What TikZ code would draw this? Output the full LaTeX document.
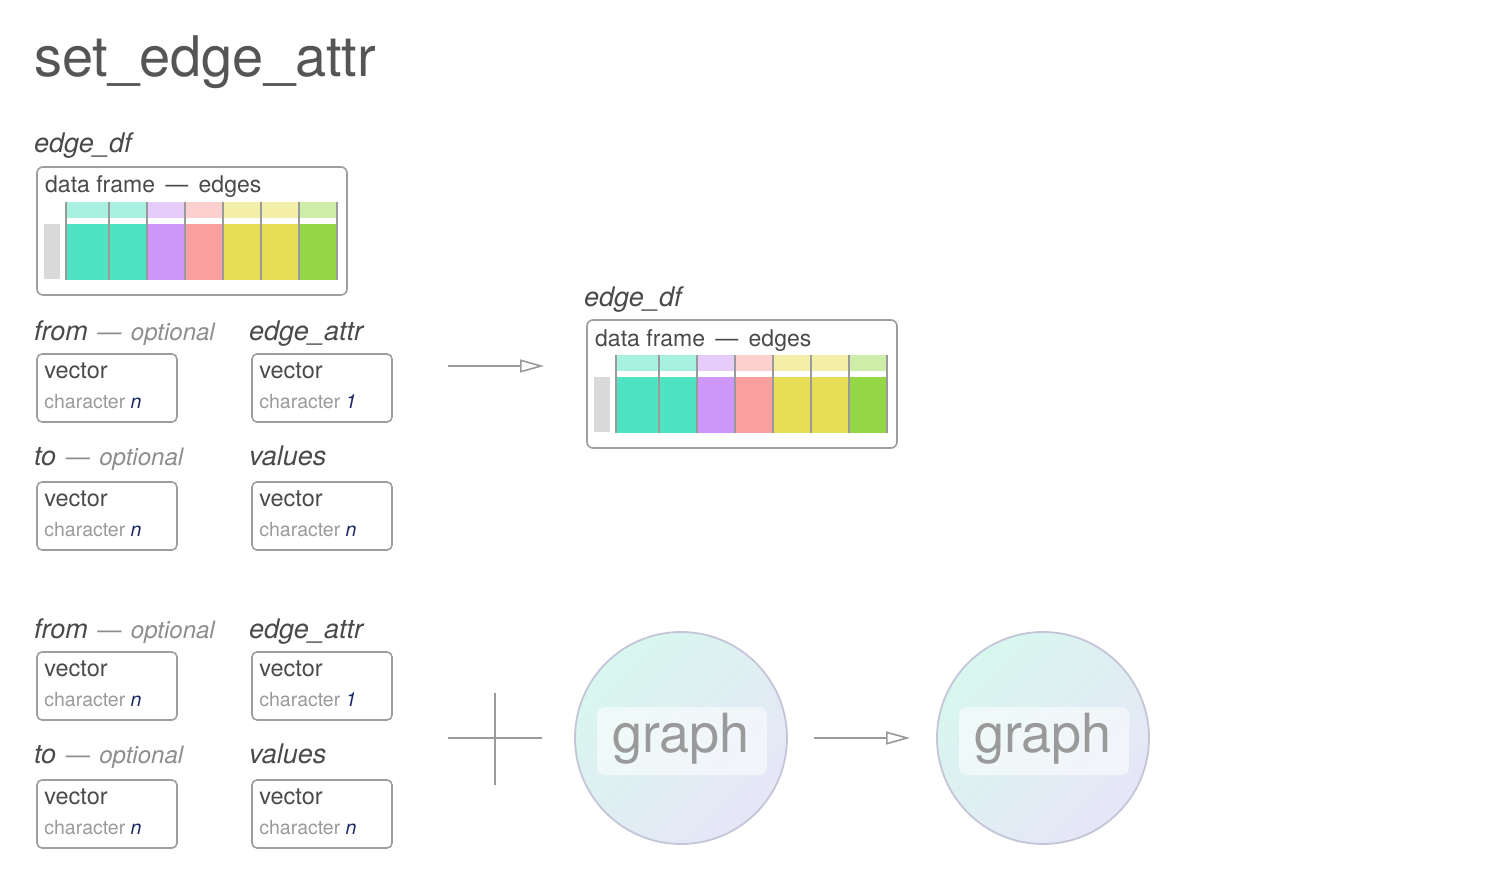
\documentclass[tikz,border=0pt]{standalone}
\usepackage{fontspec}
\setmainfont{TeX Gyre Heros}
\usetikzlibrary{arrows.meta}
\definecolor{txt}{HTML}{4A4A4A}
\definecolor{ttl}{HTML}{555555}
\definecolor{opt}{HTML}{8E8E8E}
\definecolor{chr}{HTML}{9A9A9A}
\definecolor{navy}{HTML}{1B2A64}
\definecolor{frame}{HTML}{9E9E9E}
\definecolor{sepc}{HTML}{9A9A9A}
\definecolor{barc}{HTML}{D9D9D9}
\definecolor{hA}{HTML}{A8F0E0}\definecolor{bA}{HTML}{4FE3C1}
\definecolor{hB}{HTML}{E5CCFA}\definecolor{bB}{HTML}{CD96F9}
\definecolor{hC}{HTML}{FDD0D0}\definecolor{bC}{HTML}{FA9F9F}
\definecolor{hD}{HTML}{F3EFA8}\definecolor{bD}{HTML}{E8DE55}
\definecolor{hE}{HTML}{CDEDA8}\definecolor{bE}{HTML}{95D646}
\definecolor{mint}{HTML}{D8F7EE}
\definecolor{lav}{HTML}{E6E6F7}
\definecolor{ring}{HTML}{C4C6D8}
\definecolor{gtxt}{HTML}{9A9A9A}
\tikzset{
  txtnode/.style={inner sep=0pt, anchor=base west},
  lbl/.style={txtnode, text=txt, font=\fontsize{27}{30}\selectfont\itshape},
  dfbox/.style={draw=frame, line width=1.6pt, rounded corners=6pt, minimum width=310pt, minimum height=128pt, inner sep=0pt},
  vecbox/.style={draw=frame, line width=1.6pt, rounded corners=5pt, minimum width=140pt, minimum height=68pt, inner sep=0pt},
  sep/.style={draw=sepc, line width=2pt},
  arr/.style={draw=sepc, line width=1.6pt, -{Triangle[open, length=24pt, width=13pt, line width=1.6pt]}},
  plusline/.style={draw=sepc, line width=2pt},
  gcirc/.style={circle, draw=ring, line width=1.8pt, minimum size=212pt, inner sep=0pt, top color=mint, bottom color=lav, shading angle=45},
  gbox/.style={fill=white, fill opacity=0.55, rounded corners=8pt, minimum width=170pt, minimum height=68pt, inner sep=0pt},
  gtext/.style={inner sep=0pt, anchor=base, text=gtxt, font=\fontsize{54}{58}\selectfont},
}
\newcommand\dfblock[3]{%
\begin{scope}[shift={(#2,#3)}]
  \node[dfbox] (#1) at (192,231) {};
  \node[lbl] (#1-lbl) at (34,153) {edge\_df};
  \node[txtnode, text=txt, font=\fontsize{23}{26}\selectfont] (#1-t) at (45,193) {data frame\hspace{0.45em}—\hspace{0.45em}edges};
  \fill[barc] (44,224) rectangle (60,279);
  \foreach \xa/\xb/\ch/\cb in {66/108.7/hA/bA,108.7/146.7/hA/bA,146.7/185/hB/bB,185/222.7/hC/bC,222.7/261/hD/bD,261/298.7/hD/bD,298.7/336.7/hE/bE}{
    \fill[\ch] (\xa,202) rectangle (\xb,218);
    \fill[\cb] (\xa,224) rectangle (\xb,279.5);
  }
  \foreach \x in {66,108.7,146.7,185,222.7,261,298.7,336.7}{
    \draw[sep] (\x,202) -- (\x,279.5);
  }
\end{scope}}
\newcommand\vecnode[4]{%
  \node[vecbox] (#1) at ({#2+70},{#3+34}) {};
  \node[txtnode, text=txt, font=\fontsize{23.5}{26}\selectfont] (#1-v) at ([xshift=8pt,yshift=-25pt]#1.north west) {vector};
  \node[txtnode, text=chr, font=\fontsize{19.5}{22}\selectfont] (#1-c) at ([xshift=8pt,yshift=-55pt]#1.north west) {character \textcolor{navy}{\itshape #4}};
}
\newcommand\optlabel[4]{%
  \node[lbl] (#1) at (#2,#3) {#4\textcolor{opt}{\fontsize{24}{28}\selectfont\hspace{0.4em}—\hspace{0.4em}optional}};
}
\begin{document}
\begin{tikzpicture}[x=1pt,y=-1pt]
\useasboundingbox (0,0) rectangle (1510,880);
\fill[white] (0,0) rectangle (1510,880);

\node[txtnode, text=ttl, font=\fontsize{56}{60}\selectfont] (title) at (34,77) {set\_edge\_attr};

\dfblock{dfin}{0}{0}
\dfblock{dfout}{550}{153}

% top group
\optlabel{from1}{34}{340}{from}
\node[lbl] (attr1) at (249,340) {edge\_attr};
\vecnode{vf1}{37}{354}{n}
\vecnode{va1}{252}{354}{1}
\optlabel{to1}{34}{465}{to}
\node[lbl] (val1) at (249,465) {values};
\vecnode{vt1}{37}{482}{n}
\vecnode{vv1}{252}{482}{n}

% bottom group
\optlabel{from2}{34}{638}{from}
\node[lbl] (attr2) at (249,638) {edge\_attr};
\vecnode{vf2}{37}{652}{n}
\vecnode{va2}{252}{652}{1}
\optlabel{to2}{34}{763}{to}
\node[lbl] (val2) at (249,763) {values};
\vecnode{vt2}{37}{780}{n}
\vecnode{vv2}{252}{780}{n}

% arrow top
\coordinate (a1s) at (448,366);
\coordinate (a1e) at (544,366);
\draw[arr] (a1s) -- (a1e);

% plus
\coordinate (pl) at (448,738);
\coordinate (pr) at (542,738);
\coordinate (pt) at (495,693);
\coordinate (pb) at (495,785);
\draw[plusline] (pl) -- (pr);
\draw[plusline] (pt) -- (pb);

% graphs
\node[gcirc] (g1) at (681,738) {};
\node[gbox] (g1b) at (682,741) {};
\node[gtext] (g1t) at (681,752) {graph};

\coordinate (a2s) at (814,738);
\coordinate (a2e) at (910,738);
\draw[arr] (a2s) -- (a2e);

\node[gcirc] (g2) at (1043,738) {};
\node[gbox] (g2b) at (1044,741) {};
\node[gtext] (g2t) at (1043,752) {graph};
\end{tikzpicture}
\end{document}
